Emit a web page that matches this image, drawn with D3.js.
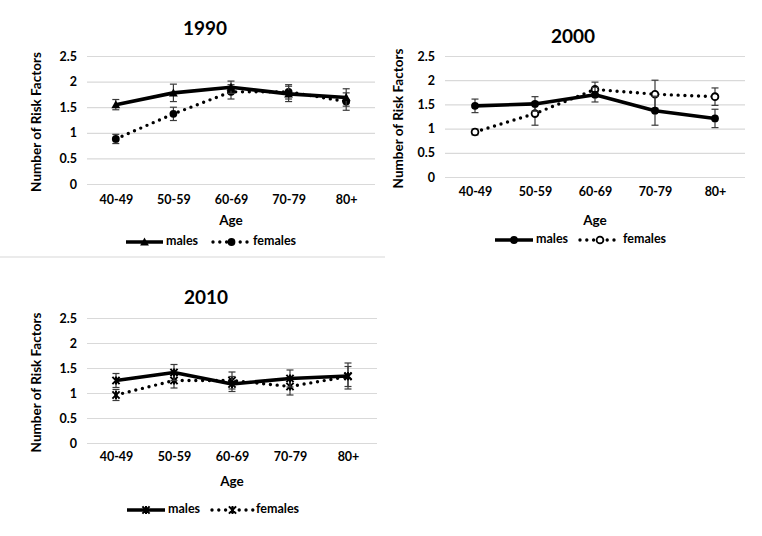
<!DOCTYPE html>
<html>
<head>
<meta charset="utf-8">
<script src="https://cdn.jsdelivr.net/npm/d3@7"></script>
<style>
  html, body { margin: 0; padding: 0; background: #ffffff; }
  svg { display: block; font-family: Lato, "Open Sans", sans-serif; }
</style>
</head>
<body>
<svg id="chart" width="762" height="536"></svg>
<script>
// ---- data ----
const ageGroups = ["40-49", "50-59", "60-69", "70-79", "80+"];
const yTicks = [0, 0.5, 1, 1.5, 2, 2.5];
const yTickLabels = ["0", "0.5", "1", "1.5", "2", "2.5"];
const seriesNames = ["males", "females"];

const males1990 = [1.55, 1.78, 1.89, 1.76, 1.69];
const males1990Err = [0.10, 0.17, 0.12, 0.15, 0.17];
const females1990 = [0.88, 1.37, 1.80, 1.80, 1.61];
const females1990Err = [0.09, 0.13, 0.14, 0.14, 0.17];

const males2000 = [1.47, 1.51, 1.70, 1.37, 1.21];
const males2000Err = [0.14, 0.15, 0.15, 0.30, 0.19];
const females2000 = [0.93, 1.31, 1.81, 1.71, 1.66];
const females2000Err = [0.06, 0.24, 0.15, 0.29, 0.18];

const males2010 = [1.25, 1.41, 1.18, 1.29, 1.34];
const males2010Err = [0.14, 0.16, 0.15, 0.17, 0.26];
const females2010 = [0.96, 1.25, 1.25, 1.13, 1.33];
const females2010Err = [0.11, 0.15, 0.17, 0.17, 0.20];

const titles = ["1990", "2000", "2010"];
const yAxisTitle = "Number of Risk Factors";
const xAxisTitle = "Age";

// ---- layout (positions only) ----
const panels = [
  { title: titles[0], males: males1990, mErr: males1990Err, females: females1990, fErr: females1990Err,
    mMarker: "triangle", fMarker: "dot",
    x0: 87, x1: 375, yTop: 56, yBot: 184, titleX: 205, titleY: 30, yTitleX: 38,
    xLabY: 203, ageY: 222, legY: 242, legM: [126, 163], legF: [213, 250] },
  { title: titles[1], males: males2000, mErr: males2000Err, females: females2000, fErr: females2000Err,
    mMarker: "dot", fMarker: "open",
    x0: 445, x1: 745, yTop: 56, yBot: 177, titleX: 573, titleY: 38, yTitleX: 400,
    xLabY: 195, ageY: 222, legY: 240, legM: [495, 533], legF: [580, 620] },
  { title: titles[2], males: males2010, mErr: males2010Err, females: females2010, fErr: females2010Err,
    mMarker: "star", fMarker: "star",
    x0: 87, x1: 377, yTop: 318, yBot: 443, titleX: 206, titleY: 299, yTitleX: 38,
    xLabY: 460, ageY: 483, legY: 510, legM: [127, 165], legF: [212, 253] }
];

const svg = d3.select("#chart");
const INK = "#000000";

// faint separator under the first chart
svg.append("line").attr("x1", 0).attr("x2", 385).attr("y1", 257).attr("y2", 257)
  .attr("stroke", "#ebebeb").attr("stroke-width", 2);

function drawMarker(g, type, cx, cy) {
  if (type === "triangle") {
    const s = 4.4;
    g.append("path")
      .attr("d", `M${cx},${cy - s} L${cx + s},${cy + s * 0.8} L${cx - s},${cy + s * 0.8} Z`)
      .attr("fill", INK);
  } else if (type === "dot") {
    g.append("circle").attr("cx", cx).attr("cy", cy).attr("r", 3.9).attr("fill", INK);
  } else if (type === "open") {
    g.append("circle").attr("cx", cx).attr("cy", cy).attr("r", 3.4)
      .attr("fill", "#ffffff").attr("stroke", INK).attr("stroke-width", 1.8);
  } else if (type === "star") {
    const s = 3.6;
    g.append("path")
      .attr("d", `M${cx - s},${cy - s} L${cx + s},${cy + s} M${cx - s},${cy + s} L${cx + s},${cy - s} M${cx},${cy - s - 0.5} L${cx},${cy + s + 0.5}`)
      .attr("stroke", INK).attr("stroke-width", 2).attr("fill", "none");
  }
}

panels.forEach(p => {
  const g = svg.append("g");
  const x = d3.scalePoint().domain(ageGroups).range([p.x0, p.x1]).padding(0.5);
  const y = d3.scaleLinear().domain([0, 2.5]).range([p.yBot, p.yTop]);

  // title
  g.append("text").attr("x", p.titleX).attr("y", p.titleY)
    .attr("text-anchor", "middle").attr("dominant-baseline", "middle")
    .attr("font-size", 19).attr("font-weight", 700).attr("fill", INK).text(p.title);

  // gridlines
  const yAxis = d3.axisLeft(y).tickValues(yTicks)
    .tickFormat((d, i) => yTickLabels[i]).tickSize(-(p.x1 - p.x0)).tickPadding(10);
  const ya = g.append("g").attr("transform", `translate(${p.x0},0)`).call(yAxis);
  ya.select(".domain").remove();
  ya.selectAll(".tick line").attr("stroke", "#d9d9d9").attr("stroke-width", 1.2);
  ya.selectAll(".tick text").attr("font-size", 12.5).attr("font-weight", 700)
    .attr("fill", INK).attr("font-family", "Lato, sans-serif");

  // x axis labels
  const xAxis = d3.axisBottom(x).tickSize(0).tickPadding(0);
  const xa = g.append("g").attr("transform", `translate(0,${p.xLabY - 8})`).call(xAxis);
  xa.select(".domain").remove();
  xa.selectAll(".tick text").attr("font-size", 12.5).attr("font-weight", 700)
    .attr("fill", INK).attr("font-family", "Lato, sans-serif");

  // axis titles
  g.append("text").attr("x", (p.x0 + p.x1) / 2).attr("y", p.ageY)
    .attr("text-anchor", "middle").attr("dominant-baseline", "middle")
    .attr("font-size", 13.5).attr("font-weight", 700).attr("fill", INK).text(xAxisTitle);
  g.append("text")
    .attr("transform", `translate(${p.yTitleX},${(p.yTop + p.yBot) / 2 + 2}) rotate(-90)`)
    .attr("text-anchor", "middle").attr("dominant-baseline", "middle")
    .attr("font-size", 13.5).attr("font-weight", 700).attr("fill", INK).text(yAxisTitle);

  const line = d3.line().x((d, i) => x(ageGroups[i])).y(d => y(d));

  function series(vals, errs, dotted, marker) {
    const sg = g.append("g");
    // error bars
    vals.forEach((v, i) => {
      const cx = x(ageGroups[i]);
      const lo = y(v - errs[i]), hi = y(v + errs[i]);
      sg.append("line").attr("x1", cx).attr("x2", cx).attr("y1", lo).attr("y2", hi)
        .attr("stroke", "#3a3a3a").attr("stroke-width", 1.2);
      [lo, hi].forEach(yy => sg.append("line")
        .attr("x1", cx - 3.5).attr("x2", cx + 3.5).attr("y1", yy).attr("y2", yy)
        .attr("stroke", "#3a3a3a").attr("stroke-width", 1.2));
    });
    const path = sg.append("path").datum(vals).attr("d", line).attr("fill", "none")
      .attr("stroke", INK);
    if (dotted) {
      path.attr("stroke-width", 3.4).attr("stroke-dasharray", "0 6.8").attr("stroke-linecap", "round");
    } else {
      path.attr("stroke-width", 3.6).attr("stroke-linejoin", "round");
    }
    vals.forEach((v, i) => drawMarker(sg, marker, x(ageGroups[i]), y(v)));
  }
  series(p.females, p.fErr, true, p.fMarker);
  series(p.males, p.mErr, false, p.mMarker);

  // legend
  const lg = g.append("g");
  const legendItems = [
    { name: seriesNames[0], seg: p.legM, dotted: false, marker: p.mMarker },
    { name: seriesNames[1], seg: p.legF, dotted: true, marker: p.fMarker }
  ];
  legendItems.forEach(it => {
    const ln = lg.append("line").attr("x1", it.seg[0]).attr("x2", it.seg[1])
      .attr("y1", p.legY).attr("y2", p.legY).attr("stroke", INK);
    if (it.dotted) ln.attr("stroke-width", 3.4).attr("stroke-dasharray", "0 6.8").attr("stroke-linecap", "round");
    else ln.attr("stroke-width", 3.6);
    drawMarker(lg, it.marker, (it.seg[0] + it.seg[1]) / 2, p.legY);
    lg.append("text").attr("x", it.seg[1] + 3).attr("y", p.legY)
      .attr("dominant-baseline", "middle").attr("font-size", 12.5).attr("font-weight", 700)
      .attr("fill", INK).text(it.name);
  });
});
</script>
</body>
</html>
